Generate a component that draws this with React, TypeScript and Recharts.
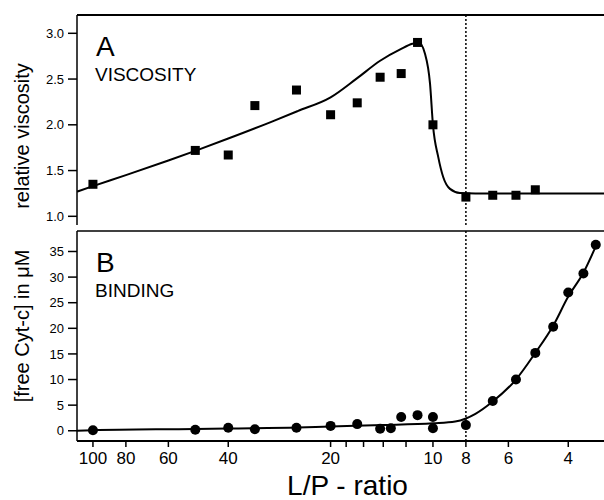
import { ComposedChart, Line, ReferenceLine, Scatter, XAxis, YAxis } from "recharts";

// measured L/P ratios and values
const lpViscosity = [100, 50, 40, 33.4, 25.2, 20, 16.7, 14.3, 12.4, 11.1, 10, 8, 6.67, 5.7, 5.0];
const viscosity = [1.35, 1.72, 1.67, 2.21, 2.38, 2.11, 2.24, 2.52, 2.56, 2.9, 2.0, 1.21, 1.23, 1.23, 1.29];

const lpBinding = [100, 50, 40, 33.4, 25.2, 20, 16.7, 14.3, 13.3, 12.4, 11.1, 10, 10, 8, 6.67, 5.7, 5.0, 4.43, 4.0, 3.61, 3.32];
const freeCytc = [0.1, 0.2, 0.6, 0.3, 0.6, 0.95, 1.3, 0.4, 0.5, 2.7, 3.05, 2.7, 0.5, 1.1, 5.8, 10.0, 15.2, 20.3, 27.0, 30.7, 36.3];

// fitted curves
const viscosityFitLp = [111.4, 100, 80, 60, 50, 40, 30, 25, 20, 16.7, 14.3, 12.4, 11.5, 11.0, 10.56, 10.2, 10.0, 9.65, 9.33, 8.91, 8.33, 7.5, 3.14];
const viscosityFit = [1.27, 1.33, 1.45, 1.61, 1.715, 1.85, 2.03, 2.15, 2.3, 2.51, 2.7, 2.83, 2.885, 2.9, 2.78, 2.45, 2.0, 1.65, 1.43, 1.3, 1.255, 1.25, 1.25];

const bindingFitLp = [111.4, 100, 50, 40, 25, 20, 14, 10, 8.6, 8.0, 7.5, 6.67, 5.7, 5.0, 4.43, 4.0, 3.6, 3.32];
const bindingFit = [0.0, 0.1, 0.35, 0.45, 0.65, 0.85, 1.1, 1.45, 1.8, 2.4, 3.3, 5.7, 10.0, 15.2, 20.5, 26.2, 31.0, 36.0];

const xTicks = [100, 80, 60, 40, 20, 18, 16, 14, 12, 10, 8, 6, 4];
const xLabels = [100, 80, 60, 40, 20, 10, 8, 6, 4];
const viscosityTicks = [1.0, 1.5, 2.0, 2.5, 3.0];
const bindingTicks = [0, 5, 10, 15, 20, 25, 30, 35];

const X_DOMAIN = [3.14, 111.4];
const A_DOMAIN = [0.905, 3.2];
const B_DOMAIN = [-2.0, 39.0];

const zip = (xs: number[], ys: number[]) => xs.map((x, i) => ({ x, y: ys[i] }));

const Square = (p: any) => (
  <rect x={p.cx - 4.5} y={p.cy - 4.5} width={9} height={9} fill="#000" />
);
const Dot = (p: any) => <circle cx={p.cx} cy={p.cy} r={5} fill="#000" />;

const axisStroke = { stroke: "#000", strokeWidth: 1.5 };

function panelLabel(title: string, letter: string, name: string, titleY: number) {
  return (props: any) => {
    const vb = props.viewBox || { x: 0, y: 0, width: 77, height: 210 };
    const left = vb.x + vb.width;
    return (
      <g>
        <text
          transform={`translate(29,${vb.y + titleY}) rotate(-90)`}
          textAnchor="middle"
          fontSize={20}
          fill="#000"
        >
          {title}
        </text>
        <text x={left + 19} y={vb.y + 41} fontSize={28} fill="#000">
          {letter}
        </text>
        <text x={left + 18} y={vb.y + 66} fontSize={19} fill="#000">
          {name}
        </text>
      </g>
    );
  };
}

const xTitle = (props: any) => {
  const vb = props.viewBox || { x: 77, y: 441, width: 527, height: 59 };
  return (
    <text x={vb.x + vb.width / 2 + 7} y={vb.y + 54} textAnchor="middle" fontSize={28} fill="#000">
      L/P - ratio
    </text>
  );
};

export default function App() {
  const ptsA = zip(lpViscosity, viscosity);
  const fitA = zip(viscosityFitLp, viscosityFit);
  const ptsB = zip(lpBinding, freeCytc);
  const fitB = zip(bindingFitLp, bindingFit);

  return (
    <div
      style={{
        position: "absolute",
        left: 0,
        top: 0,
        width: 604,
        height: 500,
        background: "#fff",
        fontFamily: "'Liberation Sans', Arial, sans-serif",
      }}
    >
      <div style={{ position: "absolute", left: 0, top: 0 }}>
        <ComposedChart width={604} height={230} margin={{ top: 15, right: 0, bottom: 5, left: 0 }}>
          <XAxis dataKey="x" type="number" scale="log" domain={X_DOMAIN} reversed hide allowDataOverflow />
          <YAxis
            type="number"
            domain={A_DOMAIN}
            allowDataOverflow
            ticks={viscosityTicks}
            tickFormatter={(v: number) => v.toFixed(1)}
            width={77}
            tickSize={9}
            tickMargin={4}
            axisLine={axisStroke}
            tickLine={axisStroke}
            tick={{ fill: "#000", fontSize: 13 }}
            label={panelLabel("relative viscosity", "A", "VISCOSITY", 121)}
          />
          <ReferenceLine y={3.2} stroke="#000" strokeWidth={2} ifOverflow="visible" />
          <ReferenceLine x={8} stroke="#000" strokeWidth={1.5} strokeDasharray="2 2" />
          <Line
            data={fitA}
            dataKey="y"
            type="monotone"
            stroke="#000"
            strokeWidth={2}
            dot={false}
            activeDot={false}
            isAnimationActive={false}
          />
          <Scatter data={ptsA} dataKey="y" shape={Square} isAnimationActive={false} />
        </ComposedChart>
      </div>
      <div style={{ position: "absolute", left: 0, top: 216 }}>
        <ComposedChart width={604} height={284} margin={{ top: 15, right: 0, bottom: 0, left: 0 }}>
          <XAxis
            dataKey="x"
            type="number"
            scale="log"
            domain={X_DOMAIN}
            reversed
            allowDataOverflow
            ticks={xTicks}
            interval={0}
            tickFormatter={(v: number) => (xLabels.includes(v) ? String(v) : "")}
            height={59}
            tickSize={6}
            tickMargin={5}
            axisLine={{ stroke: "#000", strokeWidth: 2 }}
            tickLine={axisStroke}
            tick={{ fill: "#000", fontSize: 17 }}
            label={xTitle}
          />
          <YAxis
            type="number"
            domain={B_DOMAIN}
            allowDataOverflow
            ticks={bindingTicks}
            width={77}
            tickSize={9}
            tickMargin={4}
            axisLine={axisStroke}
            tickLine={axisStroke}
            tick={{ fill: "#000", fontSize: 13 }}
            label={panelLabel("[free Cyt-c] in \u03bcM", "B", "BINDING", 95)}
          />
          <ReferenceLine y={39} stroke="#000" strokeWidth={1.5} ifOverflow="visible" />
          <ReferenceLine x={8} stroke="#000" strokeWidth={1.5} strokeDasharray="2 2" />
          <Line
            data={fitB}
            dataKey="y"
            type="monotone"
            stroke="#000"
            strokeWidth={2}
            dot={false}
            activeDot={false}
            isAnimationActive={false}
          />
          <Scatter data={ptsB} dataKey="y" shape={Dot} isAnimationActive={false} />
        </ComposedChart>
      </div>
    </div>
  );
}
